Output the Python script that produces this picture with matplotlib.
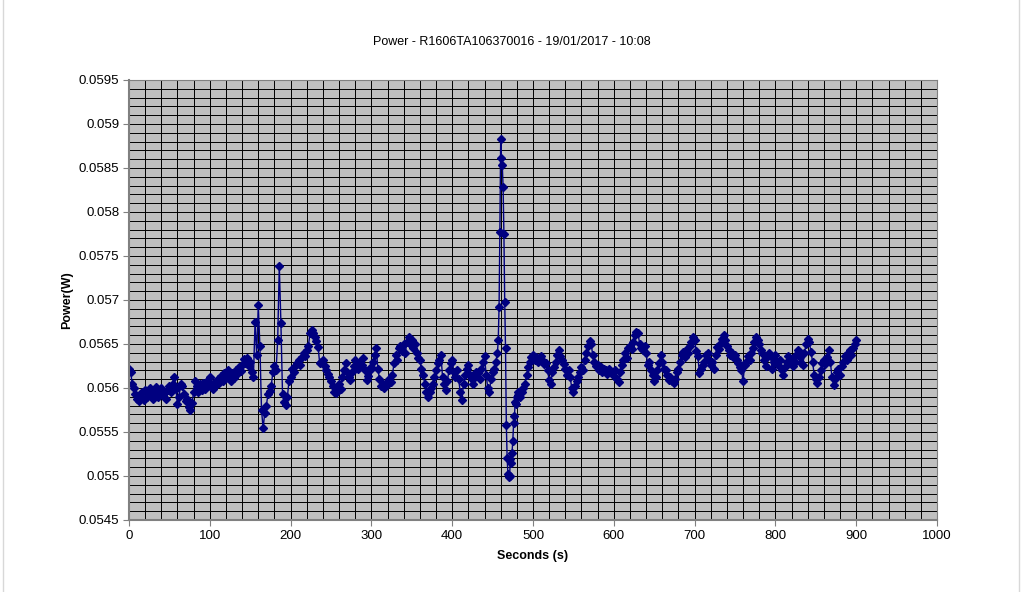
import matplotlib.pyplot as plt
import matplotlib.ticker as ticker
from matplotlib.lines import Line2D
import numpy as np

plt.rcParams['font.family'] = ['Liberation Sans', 'DejaVu Sans']

# power readings in mW, 2 s apart from 0 to 456 s
power_a = [
    56.22, 56.18, 56.05, 56.00, 55.93, 55.88, 55.85, 55.90, 55.95, 55.86,
    55.98, 55.90, 55.96, 56.00, 55.92, 55.88, 55.97, 56.01, 55.90, 55.94,
    56.00, 55.92, 55.96, 55.88, 55.98, 56.02, 55.95, 56.05, 56.13, 55.99,
    55.82, 55.90, 56.05, 56.02, 55.93, 55.85, 55.88, 55.78, 55.75, 55.83,
    55.95, 56.08, 56.02, 55.96, 56.04, 55.98, 56.06, 55.99, 56.08, 56.03,
    56.12, 56.05, 55.99, 56.07, 56.03, 56.10, 56.06, 56.14, 56.08, 56.17,
    56.12, 56.20, 56.15, 56.08, 56.17, 56.11, 56.21, 56.16, 56.24, 56.19,
    56.26, 56.33, 56.28, 56.34, 56.25, 56.30, 56.18, 56.12, 56.75, 56.38,
    56.94, 56.48, 55.75, 55.54, 55.72, 55.80, 55.93, 55.97, 56.02, 56.18,
    56.25, 56.20, 56.54, 57.39, 56.74, 55.93, 55.84, 55.81, 55.90, 56.08,
    56.12, 56.22, 56.18, 56.25, 56.28, 56.32, 56.26, 56.35, 56.40, 56.36,
    56.43, 56.48, 56.62, 56.66, 56.63, 56.58, 56.53, 56.47, 56.28, 56.30,
    56.32, 56.25, 56.20, 56.16, 56.13, 56.08, 56.02, 55.96, 55.94, 56.00,
    56.05, 55.99, 56.12, 56.20, 56.28, 56.18, 56.12, 56.09, 56.18, 56.25,
    56.32, 56.26, 56.22, 56.30, 56.26, 56.34, 56.20, 56.09, 56.14, 56.20,
    56.24, 56.30, 56.38, 56.46, 56.22, 56.10, 56.02, 56.05, 56.00, 56.06,
    56.04, 56.10, 56.07, 56.15, 56.28, 56.38, 56.32, 56.45, 56.48, 56.42,
    56.50, 56.40, 56.52, 56.58, 56.50, 56.55, 56.46, 56.50, 56.40, 56.34,
    56.32, 56.22, 56.15, 56.05, 55.96, 55.90, 55.95, 56.00, 56.05, 56.12,
    56.20, 56.28, 56.32, 56.38, 56.13, 56.05, 55.98, 56.08, 56.20, 56.28,
    56.32, 56.18, 56.13, 56.20, 56.10, 55.95, 55.86, 56.05, 56.15, 56.22,
    56.26, 56.15, 56.10, 56.05, 56.12, 56.18, 56.17, 56.10, 56.22, 56.30,
    56.36, 56.15, 56.00, 55.96, 56.10, 56.18, 56.22, 56.30, 56.40,
]
# 1 s apart over the big spike, 457 to 482 s
power_b = [
    56.55, 56.92, 57.77, 58.83, 58.61, 58.53, 58.28, 57.75, 56.98, 56.45,
    55.58, 55.20, 55.02, 54.99, 55.00, 55.19, 55.15, 55.26, 55.40, 55.60,
    55.68, 55.84, 55.82, 55.90, 55.92, 55.95,
]
# 2 s apart again, 484 to 900 s
power_c = [
    55.90, 55.95, 56.00, 56.05, 56.15, 56.24, 56.30, 56.35, 56.37, 56.32,
    56.35, 56.30, 56.34, 56.36, 56.31, 56.27, 56.28, 56.20, 56.09, 56.05,
    56.18, 56.24, 56.30, 56.38, 56.43, 56.36, 56.32, 56.27, 56.22, 56.15,
    56.20, 56.12, 56.00, 55.96, 56.02, 56.08, 56.12, 56.18, 56.24, 56.20,
    56.32, 56.40, 56.48, 56.53, 56.50, 56.37, 56.30, 56.25, 56.26, 56.20,
    56.24, 56.18, 56.22, 56.20, 56.16, 56.22, 56.18, 56.17, 56.14, 56.20,
    56.10, 56.07, 56.18, 56.26, 56.32, 56.40, 56.34, 56.45, 56.48, 56.44,
    56.52, 56.60, 56.64, 56.62, 56.50, 56.45, 56.43, 56.48, 56.40, 56.26,
    56.30, 56.20, 56.15, 56.08, 56.12, 56.20, 56.28, 56.37, 56.30, 56.22,
    56.20, 56.15, 56.09, 56.12, 56.08, 56.06, 56.10, 56.18, 56.22, 56.30,
    56.38, 56.41, 56.35, 56.44, 56.40, 56.48, 56.52, 56.58, 56.55, 56.42,
    56.36, 56.17, 56.22, 56.26, 56.30, 56.38, 56.40, 56.32, 56.26, 56.30,
    56.22, 56.38, 56.47, 56.44, 56.50, 56.56, 56.60, 56.55, 56.48, 56.43,
    56.38, 56.40, 56.35, 56.37, 56.32, 56.28, 56.24, 56.20, 56.08, 56.26,
    56.30, 56.36, 56.32, 56.40, 56.46, 56.52, 56.58, 56.55, 56.50, 56.43,
    56.40, 56.32, 56.25, 56.35, 56.40, 56.36, 56.22, 56.30, 56.38, 56.30,
    56.25, 56.32, 56.20, 56.15, 56.24, 56.30, 56.36, 56.28, 56.33, 56.25,
    56.30, 56.38, 56.43, 56.35, 56.28, 56.26, 56.40, 56.50, 56.56, 56.52,
    56.41, 56.30, 56.15, 56.10, 56.06, 56.12, 56.20, 56.28, 56.32, 56.27,
    56.35, 56.43, 56.30, 56.12, 56.03, 56.10, 56.18, 56.22, 56.15, 56.25,
    56.30, 56.36, 56.32, 56.40, 56.43, 56.38, 56.46, 56.50, 56.55,
]

seconds = np.concatenate([np.arange(0, 457, 2), np.arange(457, 483, 1), np.arange(484, 901, 2)])
power = np.array(power_a + power_b + power_c) / 1000.0

fig = plt.figure(figsize=(10.23, 5.92), dpi=100)
ax = fig.add_axes([129/1023, 1 - 520/592, (937 - 129)/1023, (520 - 80)/592])
ax.set_facecolor("#c0c0c0")

ax.plot(seconds, power, color="#000080", linewidth=1, marker="D", markersize=4.2,
        markerfacecolor="#000080", markeredgecolor="#000080")

ax.set_xlim(0, 1000)
ax.set_ylim(0.0545, 0.0595)
ax.xaxis.set_major_locator(ticker.MultipleLocator(100))
ax.xaxis.set_minor_locator(ticker.MultipleLocator(20))
ax.yaxis.set_major_locator(ticker.MultipleLocator(0.0005))
ax.yaxis.set_minor_locator(ticker.MultipleLocator(0.0001))
ax.yaxis.set_major_formatter(ticker.FuncFormatter(lambda v, p: ("%.4f" % v).rstrip("0")))
ax.grid(which="both", color="black", linewidth=0.7)
ax.set_axisbelow(True)

ax.tick_params(which="major", direction="out", length=4, color="#808080", labelsize=9.5, pad=3)
ax.tick_params(which="minor", length=0)
for side in ["left", "bottom"]:
    ax.spines[side].set_color("#808080")
    ax.spines[side].set_linewidth(1.5)
for side in ["top", "right"]:
    ax.spines[side].set_color("#808080")
    ax.spines[side].set_linewidth(0.8)

ax.set_xlabel("Seconds (s)", fontsize=9, fontweight="bold", labelpad=6)
ax.set_ylabel("Power(W)", fontsize=9, fontweight="bold", labelpad=4)
fig.text(0.5, 1 - 42/592, "Power - R1606TA106370016 - 19/01/2017 - 10:08",
         ha="center", va="center", fontsize=9)

# thin page border at the sides
fig.add_artist(Line2D([3/1023, 3/1023], [0, 1], color="#d8d8d8", linewidth=1))
fig.add_artist(Line2D([1019/1023, 1019/1023], [0, 1], color="#d8d8d8", linewidth=1))

fig.savefig("out.png", dpi=100)
